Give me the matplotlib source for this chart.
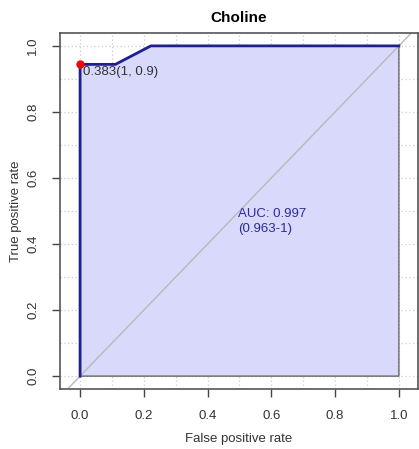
import matplotlib.pyplot as plt

plt.rcParams["font.family"] = ["Liberation Sans", "DejaVu Sans"]

# ROC points for Choline (false positive rate, true positive rate)
fpr = [0.0, 0.0, 0.111, 0.222, 1.0]
tpr = [0.0, 0.944, 0.944, 1.0, 1.0]

best_fpr = 0.0
best_tpr = 0.944
best_label = "0.383(1, 0.9)"
auc_label = "AUC: 0.997\n(0.963-1)"

ticks = [0.0, 0.2, 0.4, 0.6, 0.8, 1.0]
grid_ticks = [i / 10 for i in range(11)]

fig = plt.figure(figsize=(4.19, 4.49), dpi=100)
ax = fig.add_axes([60 / 419, 60 / 449, 358 / 419, 356 / 449])
ax.set_xlim(-0.063, 1.06)
ax.set_ylim(-0.039, 1.039)

for g in grid_ticks:
    ax.axvline(g, color="#cccccc", linestyle=(0, (1, 2)), linewidth=0.9, zorder=0)
    ax.axhline(g, color="#cccccc", linestyle=(0, (1, 2)), linewidth=0.9, zorder=0)

# shaded area under the curve
ax.fill(fpr + [1.0], tpr + [0.0], facecolor="#d9d9fb", edgecolor="#666666",
        linewidth=1.0, zorder=1)
ax.plot([-0.1, 1.1], [-0.1, 1.1], color="#b8b8b8", linewidth=1.0, zorder=2)
ax.plot(fpr, tpr, color="#1f1f8f", linewidth=2.0, zorder=3)
ax.plot(best_fpr, best_tpr, "o", color="#ff0000", markersize=5, zorder=4)

ax.text(best_fpr + 0.01, best_tpr - 0.005, best_label, fontsize=9.5,
        color="#333333", ha="left", va="top", zorder=5)
ax.text(0.495, 0.51, auc_label, fontsize=9.5, color="#2a2aa0",
        ha="left", va="top", linespacing=1.35, zorder=5)

ax.set_xticks(ticks)
ax.set_yticks(ticks)
ax.set_xticklabels([f"{t:.1f}" for t in ticks], fontsize=9.5, color="#333333")
ax.set_yticklabels([f"{t:.1f}" for t in ticks], fontsize=9.5, color="#333333",
                   rotation=90, va="center")
ax.tick_params(direction="out", length=6, width=1.0, color="#444444", pad=9)

for s in ax.spines.values():
    s.set_color("#555555")
    s.set_linewidth(1.2)

ax.set_xlabel("False positive rate", fontsize=9.5, color="#333333", labelpad=8)
ax.set_ylabel("True positive rate", fontsize=9.5, color="#333333", labelpad=4)
ax.set_title("Choline", fontsize=11, fontweight="bold", pad=8)

fig.savefig("out.png", dpi=100)
